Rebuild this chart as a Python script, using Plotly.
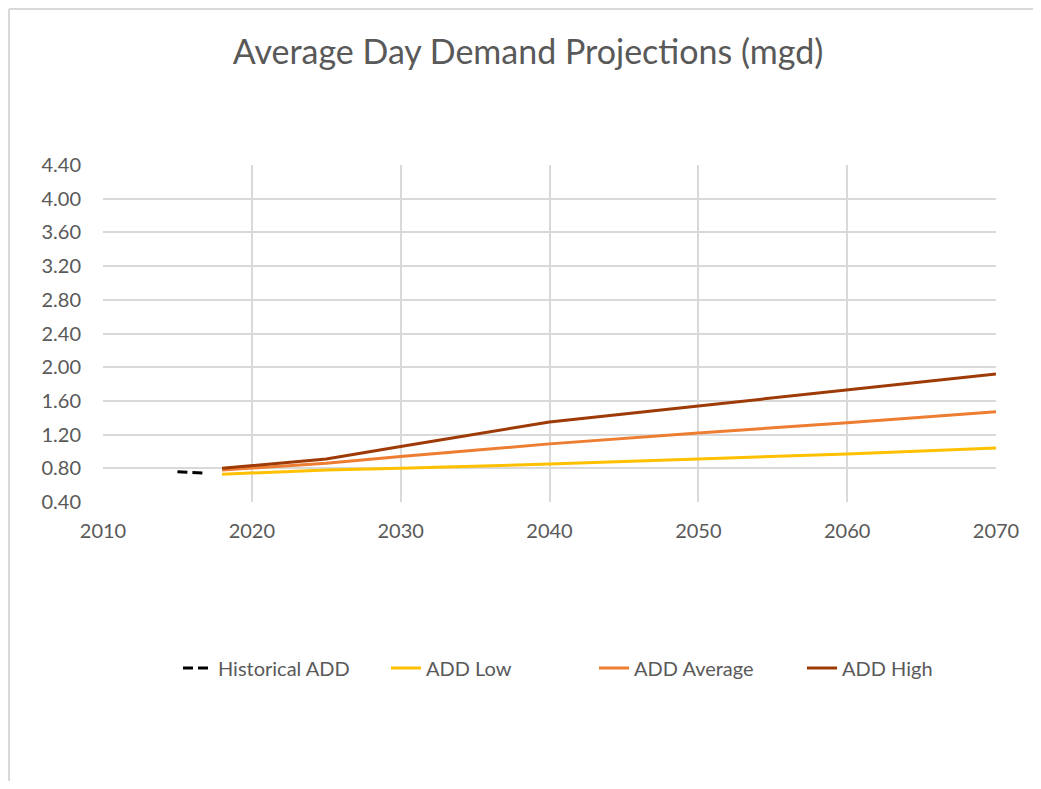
import plotly.graph_objects as go

hist_years = [2015, 2016, 2017]
hist_add = [0.76, 0.75, 0.74]

proj_years = [2018, 2025, 2030, 2040, 2050, 2060, 2070]
add_low = [0.73, 0.78, 0.80, 0.85, 0.91, 0.97, 1.04]
add_avg = [0.78, 0.86, 0.94, 1.09, 1.22, 1.34, 1.47]
add_high = [0.80, 0.91, 1.06, 1.35, 1.54, 1.73, 1.92]

series_names = ["Historical ADD", "ADD Low", "ADD Average", "ADD High"]
colors = ["#000000", "#FFC000", "#ED7D31", "#9E3A05"]

FONT = "Lato, Open Sans, sans-serif"
GRAY = "#595959"

fig = go.Figure()
fig.add_trace(go.Scatter(x=hist_years, y=hist_add, mode="lines", name=series_names[0],
                         line=dict(color=colors[0], width=3, dash="10px,5px")))
for name, ys, c in zip(series_names[1:], [add_low, add_avg, add_high], colors[1:]):
    fig.add_trace(go.Scatter(x=proj_years, y=ys, mode="lines", name=name,
                             line=dict(color=c, width=3)))

# page body has an 8px margin; work in figure coordinates
OFF = 8
L, R, T, B = 103 - OFF, 996 - OFF, 165 - OFF, 502 - OFF
W, H = 1025, 773
pw, ph = R - L, B - T

def px(x):
    return (x - OFF - L) / pw

def py(y):
    return (B - (y - OFF)) / ph

# light chart-frame border (left and top)
fig.add_shape(type="line", xref="paper", yref="paper", x0=px(9), x1=px(9), y0=py(9), y1=py(800),
              line=dict(color="#d9d9d9", width=2))
fig.add_shape(type="line", xref="paper", yref="paper", x0=px(9), x1=px(1050), y0=py(9), y1=py(9),
              line=dict(color="#d9d9d9", width=2))

fig.update_layout(
    width=W, height=H,
    margin=dict(l=L, r=W - R, t=T, b=H - B),
    paper_bgcolor="white", plot_bgcolor="white",
    font=dict(family=FONT, color=GRAY, size=20),
    title=dict(text="Average Day Demand Projections (mgd)", x=(528 - OFF) / W, xanchor="center",
               xref="container", y=1 - (52 - OFF) / H, yanchor="middle",
               font=dict(size=34, color=GRAY, family=FONT)),
    showlegend=True,
    legend=dict(orientation="h", x=px(178), xanchor="left", y=py(668), yanchor="middle",
                font=dict(size=20, color=GRAY), tracegroupgap=0,
                entrywidth=163, entrywidthmode="pixels"),
    xaxis=dict(range=[2010, 2070], tickmode="linear", tick0=2010, dtick=10,
               showgrid=True, gridcolor="#d9d9d9", gridwidth=2, zeroline=False,
               showline=False, ticks="outside", ticklen=11, tickcolor="rgba(0,0,0,0)",
               tickfont=dict(size=20, color=GRAY)),
    yaxis=dict(range=[0.4, 4.4], tickmode="linear", tick0=0.4, dtick=0.4, tickformat=".2f",
               showgrid=True, gridcolor="#d9d9d9", gridwidth=2, zeroline=False,
               showline=False, ticks="outside", ticklen=17, tickcolor="rgba(0,0,0,0)",
               tickfont=dict(size=20, color=GRAY)),
)

fig.write_html("out.html")
